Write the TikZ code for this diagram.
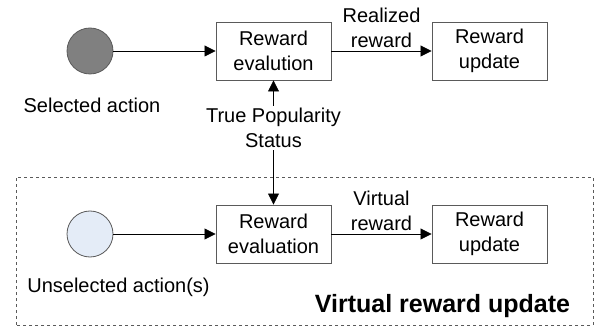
\documentclass[tikz,border=0pt]{standalone}
\usepackage{fontspec}
\setmainfont{Liberation Sans}
\usepackage{tikz}
\usetikzlibrary{positioning}
\usetikzlibrary{arrows.meta}
\usepackage{xcolor}

\definecolor{actgray}{RGB}{128,128,128}
\definecolor{actblue}{RGB}{228,236,247}
\definecolor{edgegray}{RGB}{90,90,90}

\tikzset{
  txt/.style={font=\fontsize{20}{25}\selectfont, align=center, inner sep=1pt},
  procbox/.style={txt, draw=edgegray, line width=0.9pt, rectangle,
    minimum width=115pt, minimum height=58pt},
  actnode/.style={circle, draw=edgegray, line width=0.8pt, minimum size=46pt, inner sep=0pt},
  flow/.style={line width=0.8pt, -{Triangle[length=11pt,width=11pt]}},
}

\begin{document}
\begin{tikzpicture}[x=1pt, y=1pt]

\useasboundingbox (0,0) rectangle (604,329);

% virtual area
\draw[edgegray, dashed, line width=0.7pt] (16,4) rectangle (593,152);

% actions
{
\node[actnode, fill=actgray] (sel) at (90,278) {};
\node[actnode, fill=actblue] (unsel) at (90,95) {};

\node[txt] (sellbl) at (92,224) {Selected action};
\node[txt] (unsellbl) at (118.5,42) {Unselected action(s)};
}

% boxes
{
\node[procbox] (evaltop) at (273.5,278) {Reward\\evalution};
\node[procbox] (updtop) at (489.5,278) {Reward\\update};

\node[procbox] (evalbot) at (273.5,95) {Reward\\evaluation};
\node[procbox] (updbot) at (489.5,95) {Reward\\update};
}

% arrows
\draw[flow] (sel) -- (evaltop);
\draw[flow] (unsel) -- (evalbot);
\draw[flow] (evaltop) -- node[txt, above=2pt] (reallbl) {Realized\\reward} (updtop);
\draw[flow] (evalbot) -- node[txt, above=2pt] (virtlbl) {Virtual\\reward} (updbot);
\draw[line width=0.8pt, {Triangle[length=11pt,width=11pt]}-{Triangle[length=11pt,width=11pt]}] (evaltop) -- (evalbot);

\node[txt, fill=white, inner sep=2pt] (poplbl) at (273.5,201) {True Popularity\\Status};

\node[font=\fontsize{25}{30}\selectfont\bfseries, inner sep=0pt] (virtarea) at (442.5,23) {Virtual reward update};

\end{tikzpicture}
\end{document}
